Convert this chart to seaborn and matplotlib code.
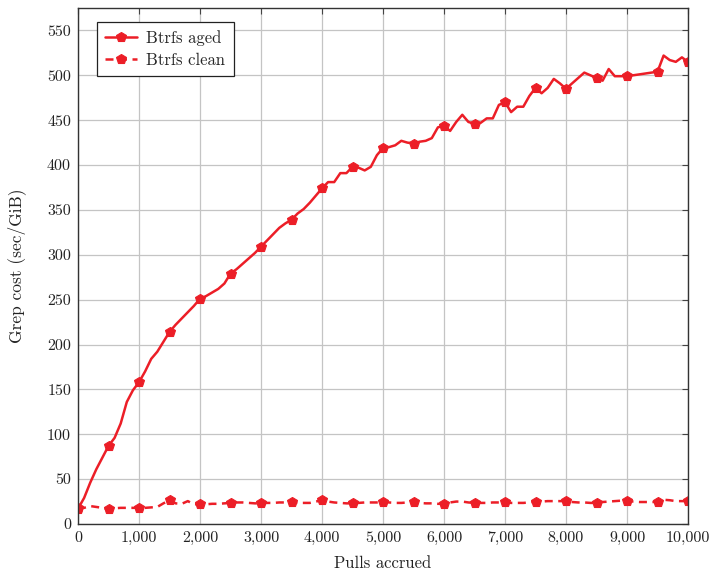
import numpy as np
import pandas as pd
import matplotlib
matplotlib.use("Agg")
import matplotlib.pyplot as plt
from matplotlib.ticker import FuncFormatter
import seaborn as sns

# Pulls sampled every 100, from 0 to 10,000
pulls = list(range(0, 10001, 100))

aged = [17, 29, 46, 61, 74, 87, 96, 112, 136, 149,
        158, 170, 184, 192, 203, 214, 222, 229, 236, 243,
        251, 254, 258, 262, 268, 279, 284, 290, 296, 302,
        309, 316, 323, 330, 335, 339, 346, 351, 358, 366,
        374, 381, 381, 391, 391, 398, 397, 394, 398, 411,
        419, 420, 422, 427, 425, 424, 426, 427, 430, 442,
        444, 438, 448, 456, 448, 446, 447, 452, 452, 467,
        470, 459, 465, 465, 477, 486, 480, 486, 496, 491,
        485, 491, 497, 503, 500, 497, 494, 507, 499, 499,
        499, 500, 501, 502, 503, 504, 522, 517, 515, 520,
        515]

clean = [17.5, 18, 20, 19, 18, 16.5, 17.5, 18, 18, 18,
         18, 18, 18.5, 19, 23, 26.5, 23, 22.5, 25.5, 22,
         22, 22, 22.5, 22.5, 23, 23.5, 24, 24, 23.5, 23,
         23, 23.5, 23.5, 24, 24, 24, 23.5, 23.5, 23.5, 25,
         26.5, 25, 24, 23.5, 23, 23, 23.5, 24, 24, 24,
         24.5, 24, 23.5, 23.5, 24, 24, 23.5, 23, 23, 22.5,
         22.5, 24, 25, 25, 24, 23.5, 23.5, 23.5, 24, 24,
         24, 23.5, 23.5, 23.5, 24, 25, 25, 25.5, 25.5, 25.5,
         25.5, 24.5, 24, 24, 23.5, 23.5, 24.5, 25, 25.5, 26,
         26, 25, 24.5, 24.5, 24.5, 24.5, 27, 26.5, 25.5, 25.5,
         25.5]

series_names = ["Btrfs aged", "Btrfs clean"]
x_ticks = list(range(0, 10001, 1000))
y_ticks = list(range(0, 551, 50))

df_aged = pd.DataFrame({"pulls": pulls, "cost": aged})
df_clean = pd.DataFrame({"pulls": pulls, "cost": clean})

sns.set_theme(style="whitegrid")
plt.rcParams["font.family"] = ["cmr10", "DejaVu Serif"]
plt.rcParams["axes.formatter.use_mathtext"] = True
plt.rcParams["mathtext.fontset"] = "cm"

red = "#EC1E27"

fig = plt.figure(figsize=(7.12, 5.72), dpi=100)
ax = fig.add_axes([78 / 712, 1 - 524 / 572, 610 / 712, 516 / 572])

sns.lineplot(data=df_aged, x="pulls", y="cost", ax=ax, color=red,
             linewidth=1.8, marker="p", markersize=7.5, markevery=5,
             markeredgewidth=0.8, markeredgecolor=red,
             label=series_names[0], errorbar=None)
sns.lineplot(data=df_clean, x="pulls", y="cost", ax=ax, color=red,
             linewidth=1.8, linestyle=(0, (3.2, 2.2)), marker="p",
             markersize=7.5, markevery=5, markeredgewidth=0.8,
             markeredgecolor=red, label=series_names[1], errorbar=None)

ax.set_xlim(0, 10000)
ax.set_ylim(0, 575)
ax.set_xticks(x_ticks)
ax.set_yticks(y_ticks)
ax.xaxis.set_major_formatter(FuncFormatter(lambda v, p: f"{int(v):,}"))
ax.yaxis.set_major_formatter(FuncFormatter(lambda v, p: f"{int(v)}"))

ax.grid(True, color="#c4c4c4", linewidth=0.9)
ax.set_facecolor("white")
for s in ax.spines.values():
    s.set_color("#333333")
    s.set_linewidth(1.0)
ax.tick_params(direction="in", length=4, width=0.8, color="#444444",
               top=True, right=True, labelsize=11.5, pad=5,
               labelcolor="#222222")

ax.set_xlabel("Pulls accrued", fontsize=12, color="#222222", labelpad=8)
ax.set_ylabel("Grep cost (sec/GiB)", fontsize=12.5, color="#222222",
              labelpad=15)

leg = ax.legend(loc="upper left", bbox_to_anchor=(19 / 610, 1 - 14 / 516),
                borderaxespad=0, fontsize=12, frameon=True, fancybox=False,
                framealpha=1, edgecolor="#222222", handlelength=1.9,
                borderpad=0.5, labelspacing=0.4, handletextpad=0.55,
                numpoints=1)
leg.get_frame().set_linewidth(0.9)

fig.savefig("out.png", dpi=100)
